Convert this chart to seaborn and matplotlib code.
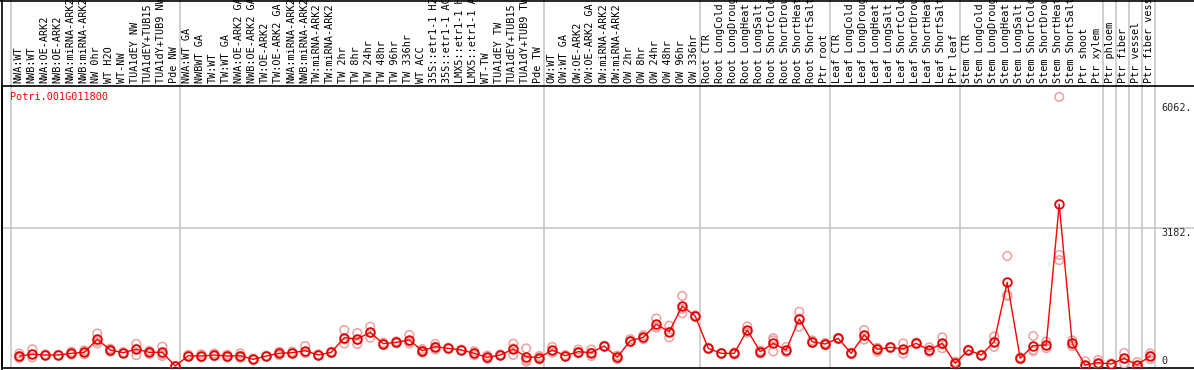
import numpy as np
import pandas as pd
import matplotlib
matplotlib.use("Agg")
import matplotlib.pyplot as plt
from matplotlib.lines import Line2D
import seaborn as sns

# Sample names (in plot order) and group sizes
samples = [
    "NWA:WT", "NWB:WT", "NWA:OE-ARK2", "NWB:OE-ARK2", "NWA:miRNA-ARK2", "NWB:miRNA-ARK2",
    "NW 0hr", "WT H2O", "WT-NW", "TUA1dEY NW", "TUA1dEY+TUB15", "TUA1dY+TUB9 NW", "Pde NW",
    "NWA:WT GA", "NWBWT GA", "TW:WT", "TW:WT GA", "NWA:OE-ARK2 GA", "NWB:OE-ARK2 GA",
    "TW:OE-ARK2", "TW:OE-ARK2 GA", "NWA:miRNA-ARK2", "NWB:miRNA-ARK2", "TW:miRNA-ARK2",
    "TW:miRNA-ARK2", "TW 2hr", "TW 8hr", "TW 24hr", "TW 48hr", "TW 96hr", "TW 336hr",
    "WT ACC", "35S::etr1-1 H2O", "35S::etr1-1 ACC", "LMX5::etr1-1 H2O", "LMX5::etr1-1 ACC",
    "WT-TW", "TUA1dEY TW", "TUA1dEY+TUB15", "TUA1dY+TUB9 TW", "Pde TW",
    "OW:WT", "OW:WT GA", "OW:OE-ARK2", "OW:OE-ARK2 GA", "OW:miRNA-ARK2", "OW:miRNA-ARK2",
    "OW 2hr", "OW 8hr", "OW 24hr", "OW 48hr", "OW 96hr", "OW 336hr",
    "Root CTR", "Root LongCold", "Root LongDrought", "Root LongHeat", "Root LongSalt",
    "Root ShortCold", "Root ShortDrought", "Root ShortHeat", "Root ShortSalt", "Ptr root",
    "Leaf CTR", "Leaf LongCold", "Leaf LongDrought", "Leaf LongHeat", "Leaf LongSalt",
    "Leaf ShortCold", "Leaf ShortDrought", "Leaf ShortHeat", "Leaf ShortSalt", "Ptr leaf",
    "Stem CTR", "Stem LongCold", "Stem LongDrought", "Stem LongHeat", "Stem LongSalt",
    "Stem ShortCold", "Stem ShortDrought", "Stem ShortHeat", "Stem ShortSalt",
    "Ptr shoot", "Ptr xylem", "Ptr phloem", "Ptr fiber", "Ptr vessel", "Ptr fiber vessel",
]
group_sizes = [13, 28, 12, 10, 10, 11, 1, 1, 1, 1]

# Mean expression per sample
expr_mean = [
    230, 270, 253, 253, 292, 315, 615, 369, 307, 385, 315, 315, 0,
    237, 230, 253, 230, 237, 154, 230, 292, 307, 353, 253, 315, 653, 622, 776, 514, 545, 599,
    353, 445, 407, 369, 292, 200, 253, 392, 215, 192,
    369, 238, 330, 307, 461, 200, 584, 660, 960, 791, 1382, 1152,
    407, 292, 292, 829, 330, 522, 369, 1083, 560, 507,
    637, 292, 714, 384, 430, 392, 522, 369, 522, 61,
    369, 253, 560, 1928, 177, 468, 484, 3725, 522, 23, 77,
    46, 177, 23, 230,
]

# Replicate values per sample
expr_reps = [
    [290, 230, 185], [385, 270, 200], [270, 250, 240], [260, 250, 245], [330, 290, 260],
    [360, 315, 270], [750, 570, 520], [400, 370, 330], [320, 300, 300], [510, 395, 250],
    [350, 320, 275], [445, 270, 230], [0, 0, 0],
    [260, 230, 220], [270, 220, 200], [290, 250, 220], [260, 230, 200], [290, 230, 190],
    [170, 150, 140], [240, 230, 220], [330, 300, 250], [330, 300, 290], [460, 300, 300],
    [270, 250, 240], [330, 310, 300], [830, 610, 520], [760, 600, 506], [905, 770, 655],
    [540, 510, 490], [570, 540, 525], [715, 560, 520],
    [390, 360, 310], [510, 445, 380], [420, 405, 395], [380, 370, 360], [340, 290, 250],
    [240, 200, 160], [270, 250, 240], [515, 405, 255], [405, 140, 100], [230, 200, 150],
    [440, 360, 310], [250, 240, 225], [380, 320, 290], [380, 310, 230], [470, 460, 450],
    [240, 200, 160], [620, 580, 555], [710, 650, 620], [1095, 900, 885], [930, 785, 660],
    [1615, 1320, 1215], [1170, 1150, 1135],
    [420, 405, 395], [300, 290, 285], [310, 300, 265], [910, 810, 765], [360, 340, 290],
    [640, 590, 335], [440, 350, 320], [1250, 1090, 905], [590, 560, 530], [530, 515, 475],
    [650, 640, 620], [310, 290, 275], [830, 700, 610], [420, 400, 330], [440, 430, 420],
    [520, 370, 285], [540, 520, 505], [430, 360, 320], [660, 500, 410], [100, 60, 20],
    [380, 370, 355], [260, 255, 245], [680, 560, 440], [2535, 1635, 1615], [200, 175, 155],
    [690, 370, 345], [560, 480, 410], [6200, 2560, 2440], [590, 520, 460], [110, 0, 0],
    [140, 60, 40], [60, 45, 35], [300, 170, 60], [90, 0, 0], [290, 230, 160],
]

gene = "Potri.001G011800"
tick_values = [0, 3182, 6062]
tick_labels = ["0", "3182.", "6062."]

# tidy tables
idx = np.arange(len(samples))
df_mean = pd.DataFrame({"pos": idx, "value": expr_mean})
df_rep = pd.DataFrame(
    [(i, v) for i, reps in enumerate(expr_reps) for v in reps], columns=["pos", "value"]
)

sns.set_style("white")
plt.rcParams["font.family"] = ["DejaVu Sans Mono"]
plt.rcParams["font.size"] = 7.3

W, H = 1194, 370
fig = plt.figure(figsize=(W / 100, H / 100), dpi=100)
ax = fig.add_axes([2 / W, 2 / H, 1192 / W, 282 / H])

# replicates (pale) then mean line with markers
sns.scatterplot(data=df_rep, x="pos", y="value", ax=ax, s=38, marker="o",
                facecolors="none", edgecolor="#eca0a0", linewidth=1.1, zorder=3, legend=False)
sns.lineplot(data=df_mean, x="pos", y="value", ax=ax, color="#ff0000", linewidth=1.0,
             marker="o", markersize=6.2, markerfacecolor="none", markeredgecolor="#e00000",
             markeredgewidth=1.3, sort=False, zorder=4)

ax.set_xlim(-1.33, 90.37)
ax.set_ylim(-46, 6451)
ax.set_xticks([])
ax.set_yticks([])
ax.set_xlabel("")
ax.set_ylabel("")
for s in ["left", "top", "bottom"]:
    ax.spines[s].set_color("black")
    ax.spines[s].set_linewidth(1.2)
ax.spines["right"].set_visible(False)

# horizontal grid at middle tick
ax.axhline(tick_values[1], color="#c8c8c8", linewidth=1.2, zorder=1)

# group separators running up through label area
bounds = np.concatenate([[0], np.cumsum(group_sizes)])
for b in bounds:
    ax.axvline(b - 0.64, ymin=0, ymax=H / 282, color="#c8c8c8", linewidth=1.2,
               clip_on=False, zorder=1)

# y tick labels on right
trans = ax.get_yaxis_transform()
ax.text(0.9725, tick_values[2], tick_labels[2], transform=trans, ha="left", va="top")
ax.text(0.9725, tick_values[1], tick_labels[1], transform=trans, ha="left", va="top")
ax.text(0.9725, tick_values[0], tick_labels[0], transform=trans, ha="left", va="bottom")

# sample labels above the plot
xtrans = ax.get_xaxis_transform()
for i, name in enumerate(samples):
    ax.text(i - 0.1, 1.0106, name, transform=xtrans, rotation=90, ha="center", va="bottom",
            color="black", clip_on=False)

# gene id
ax.text(8 / 1192, 0.961, gene, transform=ax.transAxes, color="#ff0000", ha="left",
        va="center")

# outer frame lines
fig.add_artist(Line2D([2 / W, 2 / W], [0, 1], transform=fig.transFigure, color="black", linewidth=1.2))
fig.add_artist(Line2D([0, 1], [1 - 0.5 / H, 1 - 0.5 / H], transform=fig.transFigure, color="black", linewidth=1.2))

fig.savefig("out.png", dpi=100)
